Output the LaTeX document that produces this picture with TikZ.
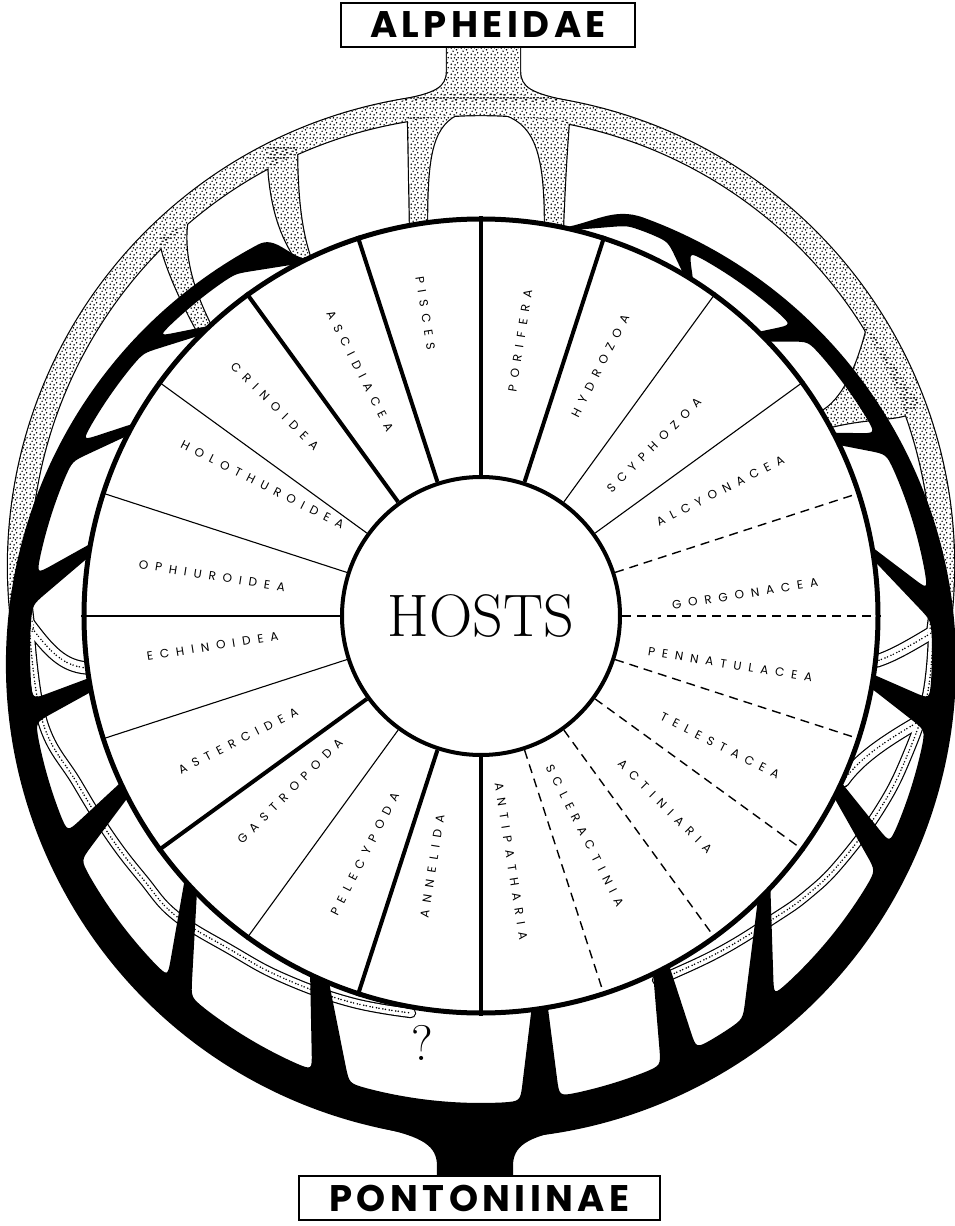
\documentclass[tikz,border=0pt]{standalone}
\usepackage{fontspec}
\newfontfamily\taxfont[LetterSpace=58]{Poppins}
\newfontfamily\headfont[LetterSpace=12]{Poppins}
\usetikzlibrary{calc,patterns.meta}

\pgfdeclarepattern{
  name=stipple, type=uncolored,
  bottom left={\pgfpointorigin}, top right={\pgfpoint{10pt}{10pt}},
  tile size={\pgfpoint{10pt}{10pt}},
  code={
    \pgfpathcircle{\pgfpoint{1.4pt}{1.9pt}}{0.9pt}
    \pgfpathcircle{\pgfpoint{5.6pt}{1.2pt}}{0.9pt}
    \pgfpathcircle{\pgfpoint{8.3pt}{3.5pt}}{0.9pt}
    \pgfpathcircle{\pgfpoint{3.4pt}{5.2pt}}{0.9pt}
    \pgfpathcircle{\pgfpoint{7.1pt}{6.8pt}}{0.9pt}
    \pgfpathcircle{\pgfpoint{1.3pt}{8.6pt}}{0.9pt}
    \pgfpathcircle{\pgfpoint{4.8pt}{8.9pt}}{0.9pt}
    \pgfpathcircle{\pgfpoint{8.9pt}{9.0pt}}{0.9pt}
    \pgfusepath{fill}
  }
}

\tikzset{
  alphedge/.style={line width=2.4pt},
  phylum/.style={line width=4pt},
  classline/.style={line width=1.1pt},
  orderline/.style={line width=1.4pt,dash pattern=on 9pt off 6pt},
  taxon/.style={font=\taxfont\fontsize{12pt}{12pt}\selectfont,inner sep=0pt},
  namebox/.style={draw,line width=2.5pt,fill=white,inner sep=0pt,
    font=\headfont\bfseries\fontsize{37pt}{37pt}\selectfont},
  stippledots/.style={line width=1.7pt,line cap=round,
    dash pattern=on 0pt off 2.6pt on 0pt off 3.9pt},
}

% white cells between the Pontoniinae branches:
% wheel arc from/to, ring arc from/to
\newcommand\celllist{117.5/133/123/135.5, 135/151/138.5/152, 153/169.5/155/170,
  171.5/189/174/186, 191/204.8/189/203.5, 207.2/221.7/207.5/226, 224.3/244.5/230/248,
  247.5/277.3/253/275, 279.7/295.7/280/293.5, 298.3/314.2/298.5/305.5,
  316.8/332.8/310.5/331, 335.2/349.5/335/350, 351.5/368/354/364, 370/385.5/368/386,
  387.5/403.7/389/403.5, 405.7/417.7/406.5/422.5, 419.3/436.5/425.5/431}

% Alpheidae: broad stippled parts
\newcommand\alphpaint[1]{%
  \path[#1] ($(Cs)+(-8.5:473)$) arc[start angle=-8.5,end angle=188.5,radius=473]
    -- ($(Cs)+(188.5:451)$) arc[start angle=188.5,end angle=-8.5,radius=451] -- cycle;
  \path[#1] (-85,515) .. controls (-45,522) and (-34,528) .. (-34,545) -- (-34,572)
    -- (39,572) -- (39,545) .. controls (39,528) and (50,522) .. (90,514) -- cycle;
  \path[#1] (-73,500) -- (-71,392) -- (-54,392) .. controls (-54,455) and (-50,488) .. (-25,501) -- cycle;
  \path[#1] (25,501) .. controls (55,490) and (64,460) .. (64,392) -- (82,390)
    .. controls (84,440) and (86,470) .. (88,496) -- cycle;
  \path[#1] (-214,470) -- (-212,440) .. controls (-208,400) and (-198,375) .. (117.3:395)
    -- (115.5:395) .. controls (-180,385) and (-184,420) .. (-184,470) -- cycle;
  \path[#1] (-322,378) -- (-318,362) .. controls (-308,330) and (-292,300) .. (135.2:395)
    -- (133:395) .. controls (-285,320) and (-298,355) .. (-294,392) -- cycle;
  \path[#1] (378,302) -- (385,284) .. controls (376,250) and (362,215) .. (31:395)
    -- (28.5:395) .. controls (385,198) and (410,196) .. (425,201) -- (440,212) -- cycle;
}
% Alpheidae: narrow bands and twigs
\newcommand\alphbands{
  plot[smooth,tension=0.7] coordinates {(-451,-20) (-438,-107) (-404,-167) (-371,-220)
    (-338,-263) (-305,-300) (-250,-334) (-198,-362) (-131,-386) (-70,-397)}
  plot[smooth,tension=0.7] coordinates {(452,-20) (446,-80) (426,-140) (399,-193)
    (359,-247) (326,-279) (292,-303) (242,-334) (192,-358) (176,-364)}
}
\newcommand\alphtwigs{
  (452,-16) .. controls (432,-28) and (412,-40) .. (-6.5:398)
  (437,-106) .. controls (410,-122) and (380,-140) .. (-24.5:398)
  (-452,-8) .. controls (-432,-35) and (-418,-50) .. (187.5:398)
}

\begin{document}
\begin{tikzpicture}[x=1pt,y=1pt]
  \useasboundingbox (-481,-610) rectangle (474,616);
  \coordinate (Cs) at (0,50);
  \coordinate (Co) at (0,-48);
  \coordinate (Ci) at (0,-36);

  % --- Alpheidae (stippled) ---
  \alphpaint{draw,alphedge}
  \draw[line width=10.4pt,line cap=round] \alphbands;
  \draw[line width=13.4pt,line cap=round] \alphtwigs;
  \alphpaint{fill=white}
  \draw[white,line width=8pt,line cap=round] \alphbands;
  \draw[white,line width=11pt,line cap=round] \alphtwigs;
  \alphpaint{pattern=stipple,pattern color=black}
  \draw[stippledots] \alphbands;
  \draw[stippledots] \alphtwigs;

  % --- Pontoniinae (black ring, branches left between the cells) ---
  \foreach \a/\b/\c/\d [count=\i] in \celllist {
    \coordinate (k\i a) at (\a:397);
    \coordinate (k\i b) at (\b:397);
    \coordinate (k\i c) at ($(Ci)+(\c:451)$);
    \coordinate (k\i d) at ($(Ci)+(\d:451)$);
  }
  \fill[even odd rule] (116:397) to[out=170,in=28] ($(Co)+(118:475)$)
      arc[start angle=118,end angle=430,radius=475]
      to[out=160,in=10] (78:397) arc[start angle=78,end angle=-244,radius=397] -- cycle
    foreach \a/\b/\c/\d [count=\i] in \celllist {
      (k\i a) arc[start angle=\a,end angle=\b,radius=397]
      -- ($(k\i d)!18pt!(k\i b)$) .. controls (k\i d) .. ($(Ci)+({\d-2.3}:451)$)
      arc[start angle=\d-2.3,end angle=\c+2.3,radius=451]
      .. controls (k\i c) .. ($(k\i c)!18pt!(k\i a)$) -- cycle};
  \fill (-100,-512) .. controls (-58,-521) and (-44,-530) .. (-44,-550) -- (-44,-565)
    -- (32,-565) -- (32,-550) .. controls (32,-530) and (46,-521) .. (88,-513) -- cycle;

  % --- host wheel ---
  \node[circle,draw,line width=5pt,fill=white,minimum size=794pt,inner sep=0pt] (wheel) at (0,0) {};
  \node[circle,draw,line width=4pt,fill=white,minimum size=278pt,inner sep=0pt,
    font=\fontsize{60pt}{60pt}\selectfont] (hosts) at (0,0) {HOSTS};
  \foreach \a in {90,72,-90,-108,-144,126,108}{\draw[phylum] (hosts.\a) -- (wheel.\a);}
  \foreach \a in {54,36,-126,-162,180,162,144}{\draw[classline] (hosts.\a) -- (wheel.\a);}
  \foreach \a in {18,0,-18,-36,-54,-72}{\draw[orderline] (hosts.\a) -- (wheel.\a);}

  \foreach \ang/\rad/\dir/\name in {100.4/308/99/PISCES, 81.9/278/81/PORIFERA,
      64.5/277/63/HYDROZOA, 44.6/243/45/SCYPHOZOA, 27.6/270/27/ALCYONACEA,
      4.8/265/9/GORGONACEA, -11/254/-9/PENNATULACEA, -28.5/272/-27/TELESTACEA,
      -46/265/-45/ACTINIARIA, -64.7/243/-63/SCLERACTINIA, -83/247/-81/ANTIPATHARIA,
      -101/255/-99/ANNELIDA, -116/265/-117/PELECYPODA, -137.5/259/-135/GASTROPODA,
      -152.8/273/-153/ASTERCIDEA, -173.6/270/-171/ECHINOIDEA, 171.5/272/171/OPHIUROIDEA,
      149/255/153/HOLOTHUROIDEA, 134.5/294/135/CRINOIDEA, 116.3/273/117/ASCIDIACEA}{
    \pgfmathsetmacro\rot{\dir-180*(cos(\dir)<0)}
    \node[taxon,rotate=\rot] (\name) at (\ang:\rad) {\name};}

  % --- names ---
  \node[namebox,minimum width=294pt,minimum height=44pt] (alpheidae) at (7,591) {ALPHEIDAE};
  \node[namebox,minimum width=361pt,minimum height=44pt] (pontoniinae) at (-1.5,-582) {PONTONIINAE};
  \node[font=\fontsize{50pt}{50pt}\selectfont] (query) at (-59,-427) {?};
\end{tikzpicture}
\end{document}
